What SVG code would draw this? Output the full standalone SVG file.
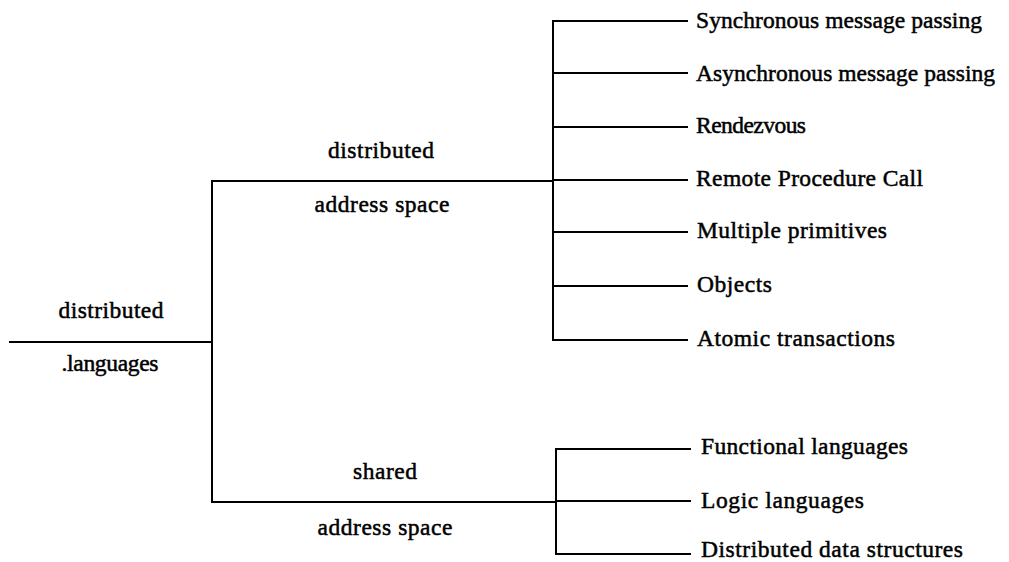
<svg xmlns="http://www.w3.org/2000/svg" width="1009" height="562" viewBox="0 0 1009 562">
<style>
.t{font-family:"Liberation Serif","Times New Roman",serif;font-size:23.5px;fill:#000;stroke:#000;stroke-width:0.5;}
.c{text-anchor:middle;}
.l{stroke:#000;stroke-width:2;fill:none;stroke-linecap:square;}
</style>
<rect width="1009" height="562" fill="#fff"/>
<g id="connectors">
<path class="l" d="M10 342 H212"/>
<path class="l" d="M212 181 V502"/>
<path class="l" d="M212 181 H553"/>
<path class="l" d="M212 502 H556"/>
<path class="l" d="M553 21 V340"/>
<path class="l" d="M553 21 H687 M553 73 H687 M553 127 H687 M553 180 H687 M553 232 H687 M553 286 H687 M553 340 H687"/>
<path class="l" d="M556 449 V554"/>
<path class="l" d="M556 449 H690 M556 501 H690 M556 554 H690"/>
</g>
<g id="root"><text class="t c" x="111" y="318" textLength="105">distributed</text><text class="t c" x="110" y="371" textLength="97">.languages</text></g>
<g id="das"><text class="t c" x="381" y="158" textLength="106">distributed</text><text class="t c" x="382" y="212" textLength="135">address space</text></g>
<g id="sas"><text class="t c" x="385" y="479" textLength="64">shared</text><text class="t c" x="385" y="535" textLength="135">address space</text></g>
<g id="n1"><text class="t" x="696" y="28" textLength="286">Synchronous message passing</text></g>
<g id="n2"><text class="t" x="696" y="81" textLength="299">Asynchronous message passing</text></g>
<g id="n3"><text class="t" x="696" y="133" textLength="110">Rendezvous</text></g>
<g id="n4"><text class="t" x="696" y="186" textLength="227">Remote Procedure Call</text></g>
<g id="n5"><text class="t" x="697" y="238" textLength="190">Multiple primitives</text></g>
<g id="n6"><text class="t" x="697" y="292" textLength="75">Objects</text></g>
<g id="n7"><text class="t" x="697" y="346" textLength="198">Atomic transactions</text></g>
<g id="n8"><text class="t" x="701" y="454" textLength="207">Functional languages</text></g>
<g id="n9"><text class="t" x="701" y="508" textLength="163">Logic languages</text></g>
<g id="n10"><text class="t" x="701" y="557" textLength="262">Distributed data structures</text></g>
</svg>
